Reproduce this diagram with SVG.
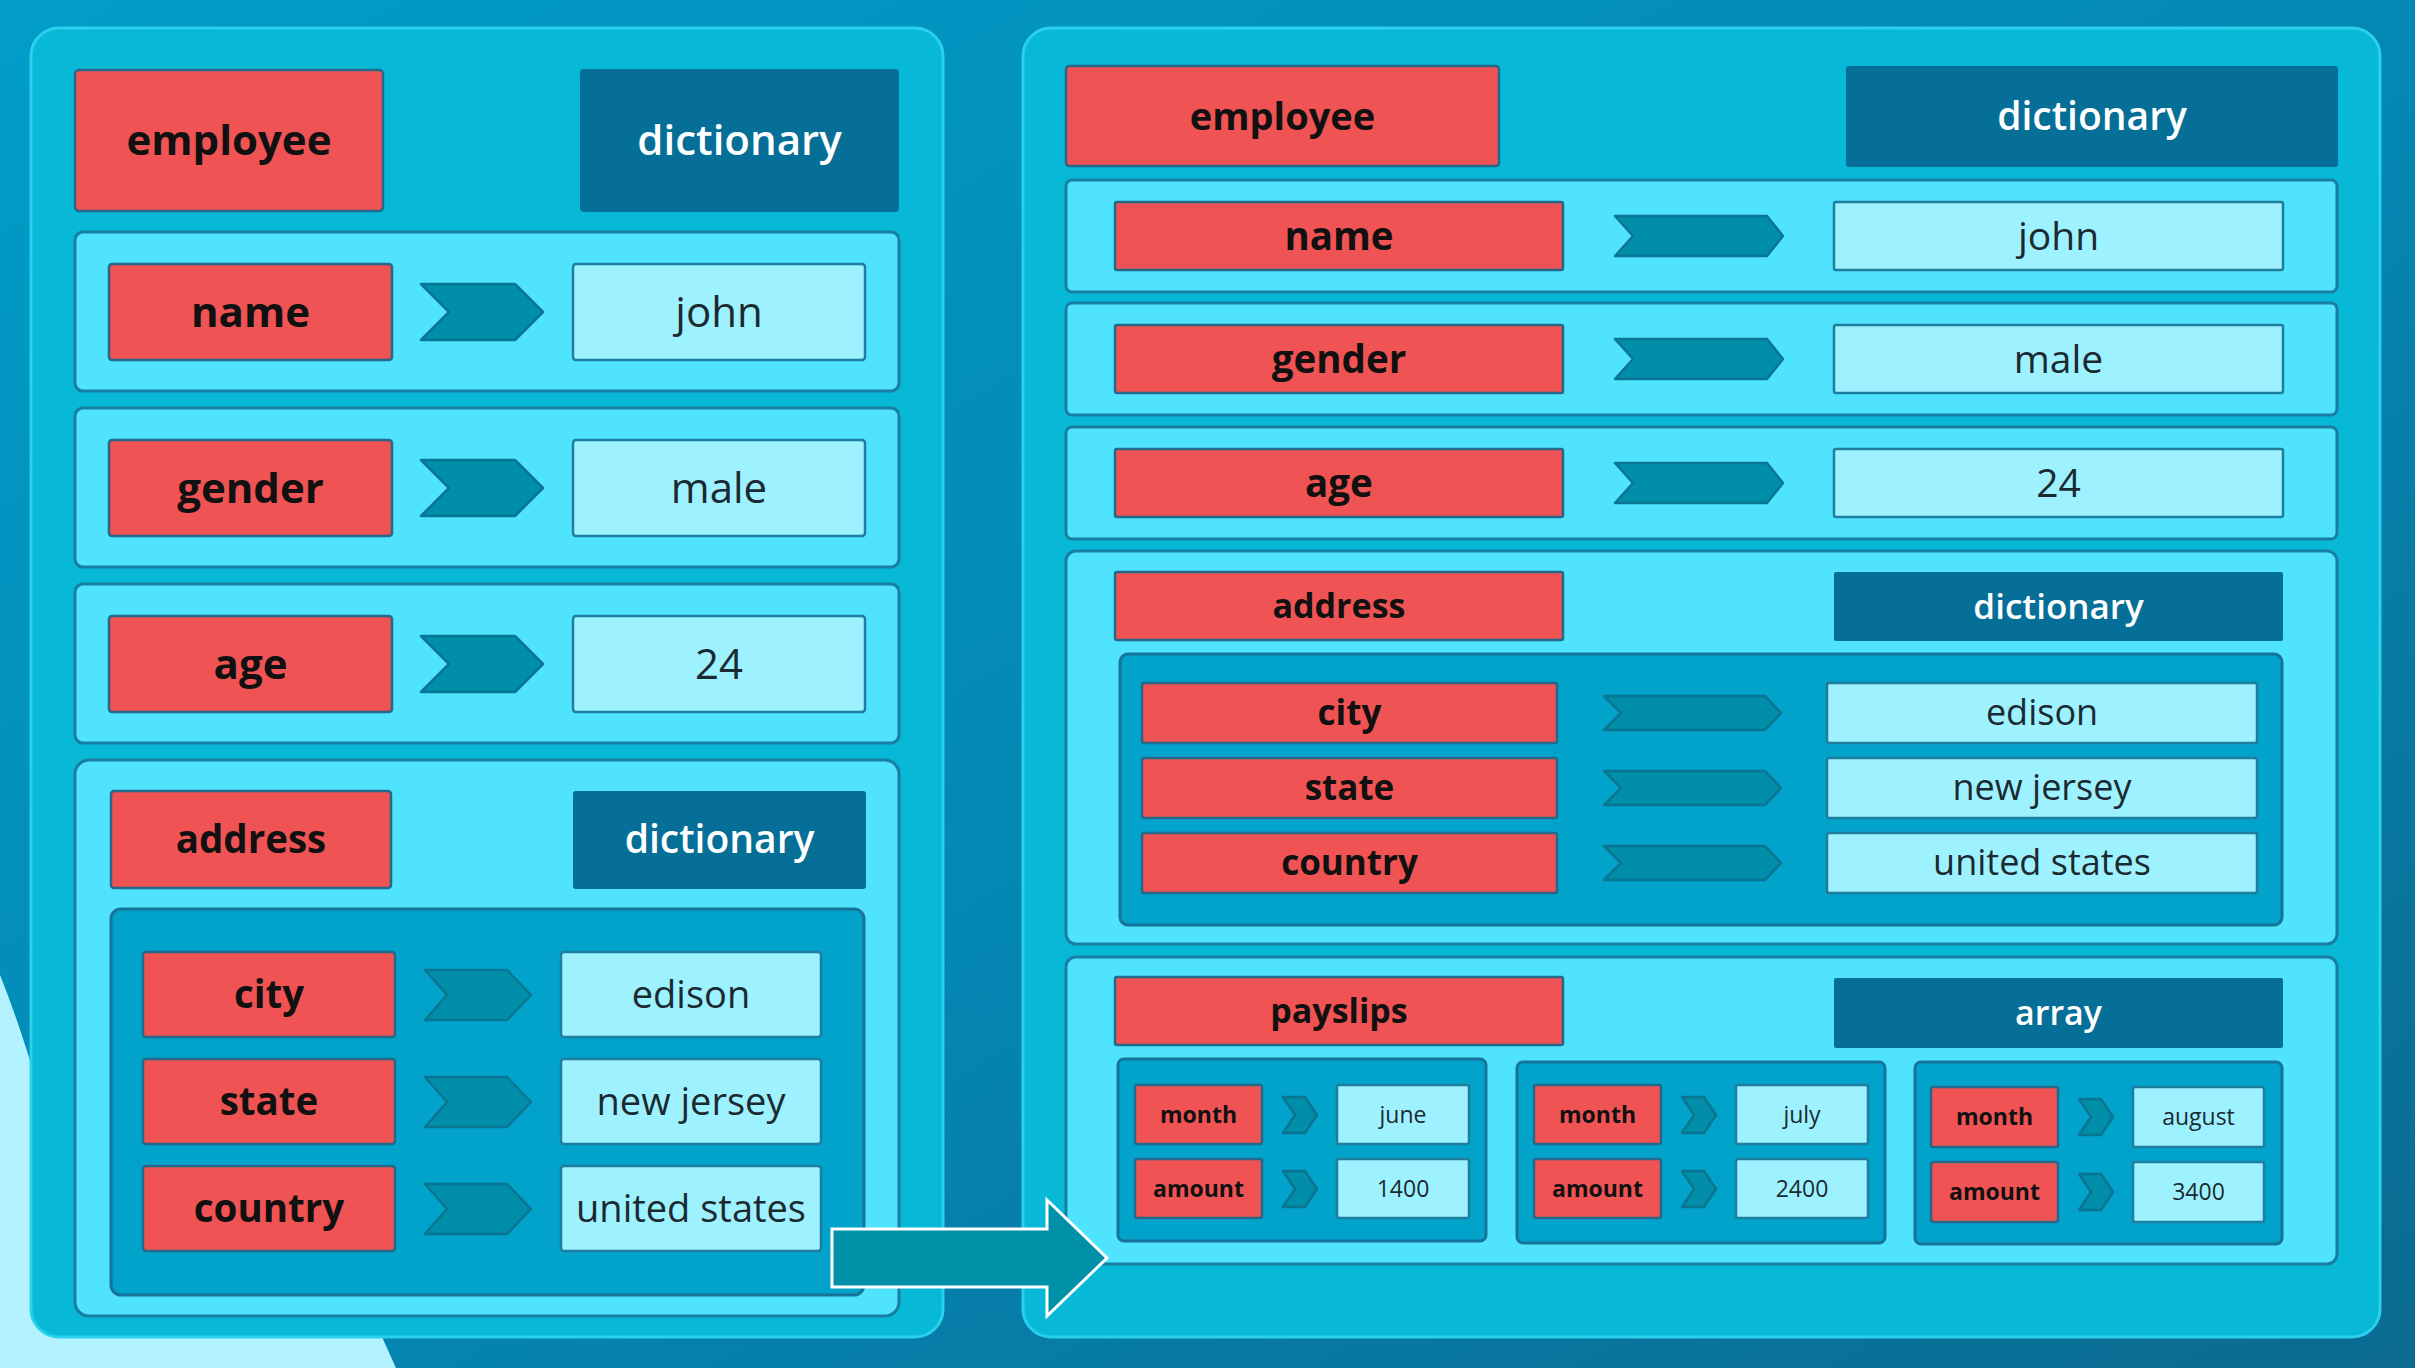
<svg xmlns="http://www.w3.org/2000/svg" width="2415" height="1368" viewBox="0 0 2415 1368">
<defs>
<linearGradient id="bgg" x1="0" y1="0" x2="1" y2="1">
<stop offset="0" stop-color="#019dc8"/>
<stop offset="0.55" stop-color="#0486b2"/>
<stop offset="1" stop-color="#0b6a90"/>
</linearGradient>
<style>
.panel{fill:#07b9d7;stroke:#2ad0ec;stroke-width:3}
.row{fill:#4fe3fe;stroke:#1a7ea2;stroke-width:3}
.key{fill:#f05353;stroke:#24688a;stroke-width:2.5}
.val{fill:#9ef2ff;stroke:#1f7d9e;stroke-width:2.5}
.dict{fill:#066f97}
.inner{fill:#02a3cb;stroke:#17739a;stroke-width:3}
.chev{fill:#008ea8;stroke:#0a7592;stroke-width:2.5;stroke-linejoin:round}
text{font-family:"Open Sans","Liberation Sans",sans-serif;text-anchor:middle}
.tk{font-weight:700;fill:#111}
.tv{font-weight:500;fill:#1b2a30}
.td{font-weight:600;fill:#ffffff}
</style>
</defs>
<rect width="2415" height="1368" fill="url(#bgg)"/>
<path d="M0,975 Q22,1030 40,1095 L382,1337 L396,1368 L0,1368 Z" fill="#b3f3ff"/>

<!-- LEFT PANEL -->
<g id="left-panel">
<rect class="panel" x="31" y="28" width="912" height="1309" rx="28"/>
</g>
<g id="l-employee"><rect class="key" x="75" y="70" width="308" height="141" rx="4"/><text class="tk" x="229" y="155" font-size="42">employee</text></g>
<g id="l-dictionary"><rect class="dict" x="580" y="69" width="319" height="143" rx="4"/><text class="td" x="739.5" y="155" font-size="42">dictionary</text></g>

<g id="l-row-name"><rect class="row" x="75" y="232" width="824" height="159" rx="8"/>
<rect class="key" x="109" y="264" width="283" height="96" rx="3"/><text class="tk" x="250.5" y="327" font-size="42">name</text>
<rect class="val" x="573" y="264" width="292" height="96" rx="3"/><text class="tv" x="719" y="327" font-size="42">john</text></g>
<g id="l-row-gender"><rect class="row" x="75" y="408" width="824" height="159" rx="8"/>
<rect class="key" x="109" y="440" width="283" height="96" rx="3"/><text class="tk" x="250.5" y="503" font-size="42">gender</text>
<rect class="val" x="573" y="440" width="292" height="96" rx="3"/><text class="tv" x="719" y="503" font-size="42">male</text></g>
<g id="l-row-age"><rect class="row" x="75" y="584" width="824" height="159" rx="8"/>
<rect class="key" x="109" y="616" width="283" height="96" rx="3"/><text class="tk" x="250.5" y="679" font-size="42">age</text>
<rect class="val" x="573" y="616" width="292" height="96" rx="3"/><text class="tv" x="719" y="679" font-size="42">24</text></g>

<g id="l-address"><rect class="row" x="75" y="760" width="824" height="556" rx="14"/>
<rect class="key" x="111" y="791" width="280" height="97" rx="3"/><text class="tk" x="251" y="853" font-size="38.5">address</text>
<rect class="dict" x="573" y="791" width="293" height="98" rx="3"/><text class="td" x="719.5" y="853" font-size="39">dictionary</text>
<rect class="inner" x="111" y="909" width="753" height="386" rx="10"/>
<rect class="key" x="143" y="952" width="252" height="85" rx="3"/><text class="tk" x="269" y="1008" font-size="38.5">city</text>
<rect class="val" x="561" y="952" width="260" height="85" rx="3"/><text class="tv" x="691" y="1008" font-size="38">edison</text>
<rect class="key" x="143" y="1059" width="252" height="85" rx="3"/><text class="tk" x="269" y="1115" font-size="38.5">state</text>
<rect class="val" x="561" y="1059" width="260" height="85" rx="3"/><text class="tv" x="691" y="1115" font-size="38">new jersey</text>
<rect class="key" x="143" y="1166" width="252" height="85" rx="3"/><text class="tk" x="269" y="1222" font-size="38.5">country</text>
<rect class="val" x="561" y="1166" width="260" height="85" rx="3"/><text class="tv" x="691" y="1222" font-size="38">united states</text>
</g>

<!-- RIGHT PANEL -->
<g id="right-panel">
<rect class="panel" x="1023" y="28" width="1357" height="1309" rx="28"/>
</g>
<g id="r-employee"><rect class="key" x="1066" y="66" width="433" height="100" rx="3"/><text class="tk" x="1282.5" y="129.5" font-size="38">employee</text></g>
<g id="r-dictionary"><rect class="dict" x="1846" y="66" width="492" height="101" rx="3"/><text class="td" x="2092" y="130" font-size="39">dictionary</text></g>

<g id="r-row-name"><rect class="row" x="1066" y="180" width="1271" height="112" rx="6"/>
<rect class="key" x="1115" y="202" width="448" height="68" rx="2"/><text class="tk" x="1339" y="249.5" font-size="38.5">name</text>
<rect class="val" x="1834" y="202" width="449" height="68" rx="2"/><text class="tv" x="2058.5" y="249.5" font-size="39">john</text></g>
<g id="r-row-gender"><rect class="row" x="1066" y="303" width="1271" height="112" rx="6"/>
<rect class="key" x="1115" y="325" width="448" height="68" rx="2"/><text class="tk" x="1339" y="372.5" font-size="38.5">gender</text>
<rect class="val" x="1834" y="325" width="449" height="68" rx="2"/><text class="tv" x="2058.5" y="372.5" font-size="39">male</text></g>
<g id="r-row-age"><rect class="row" x="1066" y="427" width="1271" height="112" rx="6"/>
<rect class="key" x="1115" y="449" width="448" height="68" rx="2"/><text class="tk" x="1339" y="496.5" font-size="38.5">age</text>
<rect class="val" x="1834" y="449" width="449" height="68" rx="2"/><text class="tv" x="2058.5" y="496.5" font-size="39">24</text></g>

<g id="r-address"><rect class="row" x="1066" y="551" width="1271" height="393" rx="10"/>
<rect class="key" x="1115" y="572" width="448" height="68" rx="2"/><text class="tk" x="1339" y="618" font-size="34">address</text>
<rect class="dict" x="1834" y="572" width="449" height="69" rx="2"/><text class="td" x="2058.5" y="618.5" font-size="35">dictionary</text>
<rect class="inner" x="1120" y="654" width="1162" height="271" rx="8"/>
<rect class="key" x="1142" y="683" width="415" height="60" rx="2"/><text class="tk" x="1349.5" y="725" font-size="35">city</text>
<rect class="val" x="1827" y="683" width="430" height="60" rx="2"/><text class="tv" x="2042" y="725" font-size="36">edison</text>
<rect class="key" x="1142" y="758" width="415" height="60" rx="2"/><text class="tk" x="1349.5" y="800" font-size="35">state</text>
<rect class="val" x="1827" y="758" width="430" height="60" rx="2"/><text class="tv" x="2042" y="800" font-size="36">new jersey</text>
<rect class="key" x="1142" y="833" width="415" height="60" rx="2"/><text class="tk" x="1349.5" y="875" font-size="35">country</text>
<rect class="val" x="1827" y="833" width="430" height="60" rx="2"/><text class="tv" x="2042" y="875" font-size="36">united states</text>
</g>

<g id="r-payslips"><rect class="row" x="1066" y="957" width="1271" height="307" rx="10"/>
<rect class="key" x="1115" y="977" width="448" height="68" rx="2"/><text class="tk" x="1339" y="1023" font-size="34">payslips</text>
<rect class="dict" x="1834" y="978" width="449" height="70" rx="2"/><text class="td" x="2058.5" y="1025" font-size="34">array</text>
</g>
<g id="r-payslip-1">
<rect class="inner" x="1118" y="1059" width="368" height="182" rx="6"/>
<rect class="key" x="1135" y="1085" width="127" height="59" rx="2"/><text class="tk" x="1198.5" y="1122.5" font-size="23">month</text>
<rect class="val" x="1337" y="1085" width="132" height="59" rx="2"/><text class="tv" x="1403" y="1122.5" font-size="23">june</text>
<rect class="key" x="1135" y="1159" width="127" height="59" rx="2"/><text class="tk" x="1198.5" y="1196.5" font-size="23">amount</text>
<rect class="val" x="1337" y="1159" width="132" height="59" rx="2"/><text class="tv" x="1403" y="1196.5" font-size="23">1400</text>
</g>
<g id="r-payslip-2">
<rect class="inner" x="1517" y="1062" width="368" height="181" rx="6"/>
<rect class="key" x="1534" y="1085" width="127" height="59" rx="2"/><text class="tk" x="1597.5" y="1122.5" font-size="23">month</text>
<rect class="val" x="1736" y="1085" width="132" height="59" rx="2"/><text class="tv" x="1802" y="1122.5" font-size="23">july</text>
<rect class="key" x="1534" y="1159" width="127" height="59" rx="2"/><text class="tk" x="1597.5" y="1196.5" font-size="23">amount</text>
<rect class="val" x="1736" y="1159" width="132" height="59" rx="2"/><text class="tv" x="1802" y="1196.5" font-size="23">2400</text>
</g>
<g id="r-payslip-3">
<rect class="inner" x="1915" y="1062" width="367" height="182" rx="6"/>
<rect class="key" x="1931" y="1087" width="127" height="60" rx="2"/><text class="tk" x="1994.5" y="1125" font-size="23">month</text>
<rect class="val" x="2133" y="1087" width="131" height="60" rx="2"/><text class="tv" x="2198.5" y="1125" font-size="23">august</text>
<rect class="key" x="1931" y="1162" width="127" height="60" rx="2"/><text class="tk" x="1994.5" y="1200" font-size="23">amount</text>
<rect class="val" x="2133" y="1162" width="131" height="60" rx="2"/><text class="tv" x="2198.5" y="1200" font-size="23">3400</text>
</g>

<!-- CONNECTORS -->
<g id="connectors">
<polygon class="chev" points="421,284 515,284 543,312 515,340 421,340 449,312"/>
<polygon class="chev" points="421,460 515,460 543,488 515,516 421,516 449,488"/>
<polygon class="chev" points="421,636 515,636 543,664 515,692 421,692 449,664"/>
<polygon class="chev" points="425,970 507,970 531,995 507,1020 425,1020 447,995"/>
<polygon class="chev" points="425,1077 507,1077 531,1102 507,1127 425,1127 447,1102"/>
<polygon class="chev" points="425,1184 507,1184 531,1209 507,1234 425,1234 447,1209"/>
<polygon class="chev" points="1615,216 1767,216 1783,236 1767,256 1615,256 1633,236"/>
<polygon class="chev" points="1615,339 1767,339 1783,359 1767,379 1615,379 1633,359"/>
<polygon class="chev" points="1615,463 1767,463 1783,483 1767,503 1615,503 1633,483"/>
<polygon class="chev" points="1604,696 1765,696 1781,713 1765,730 1604,730 1621,713"/>
<polygon class="chev" points="1604,771 1765,771 1781,788 1765,805 1604,805 1621,788"/>
<polygon class="chev" points="1604,846 1765,846 1781,863 1765,880 1604,880 1621,863"/>
<polygon class="chev" points="1283,1097 1305,1097 1317,1115 1305,1133 1283,1133 1295,1115"/>
<polygon class="chev" points="1283,1171 1305,1171 1317,1189 1305,1207 1283,1207 1295,1189"/>
<polygon class="chev" points="1682,1097 1704,1097 1716,1115 1704,1133 1682,1133 1694,1115"/>
<polygon class="chev" points="1682,1171 1704,1171 1716,1189 1704,1207 1682,1207 1694,1189"/>
<polygon class="chev" points="2079,1099 2101,1099 2113,1117 2101,1135 2079,1135 2091,1117"/>
<polygon class="chev" points="2079,1174 2101,1174 2113,1192 2101,1210 2079,1210 2091,1192"/>
<polygon points="832,1229 1047,1229 1047,1200 1107,1258 1047,1316 1047,1287 832,1287" fill="#0090a8" stroke="#ffffff" stroke-width="3"/>
</g>
</svg>
